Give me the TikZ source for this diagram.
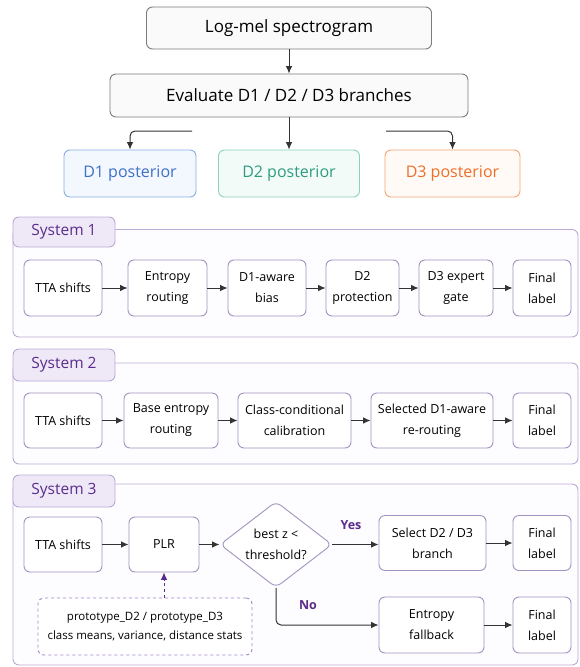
\documentclass[tikz,border=0pt]{standalone}
\usepackage{fontspec}
\setmainfont{Open Sans}
\usetikzlibrary{arrows.meta,shapes.geometric}
\definecolor{topline}{HTML}{7C7C80}
\definecolor{topfill}{HTML}{FAFAFB}
\definecolor{onecol}{HTML}{3E70C8}
\definecolor{onefill}{HTML}{F3F7FE}
\definecolor{oneline}{HTML}{8AAEE6}
\definecolor{twocol}{HTML}{2E9C7E}
\definecolor{twofill}{HTML}{F3FBF9}
\definecolor{twoline}{HTML}{8AD3C2}
\definecolor{threecol}{HTML}{EE6E28}
\definecolor{threefill}{HTML}{FFFAF6}
\definecolor{threeline}{HTML}{F3A774}
\definecolor{stageline}{HTML}{A393C0}
\definecolor{panelline}{HTML}{BBAAD6}
\definecolor{panelfill}{HTML}{FDFCFE}
\definecolor{tabfill}{HTML}{EFE8F7}
\definecolor{sysviolet}{HTML}{5A2D8C}
\definecolor{arrowgray}{HTML}{333333}
\definecolor{protoline}{HTML}{A487CC}
\begin{document}
\begin{tikzpicture}[x=1pt,y=-1pt,
    top/.style={draw=topline,fill=topfill,rounded corners=6pt,line width=0.9pt,
      font=\fontsize{17}{20}\selectfont},
    post/.style={rounded corners=6pt,line width=0.9pt,minimum height=47pt,
      font=\fontsize{16}{19}\selectfont},
    stage/.style={draw=stageline,fill=white,rounded corners=6pt,line width=0.9pt,
      align=center,inner sep=2pt,font=\fontsize{12.5}{21}\selectfont},
    panel/.style={draw=panelline,fill=panelfill,rounded corners=6pt,line width=0.9pt},
    tab/.style={draw=panelline,fill=tabfill,rounded corners=6pt,line width=0.9pt,
      text=sysviolet,minimum width=102pt,font=\fontsize{15.5}{18}\selectfont},
    arr/.style={draw=arrowgray,line width=1pt,-{Latex[length=7.5pt,width=6.5pt]}},
    dasharr/.style={draw=sysviolet,line width=0.9pt,dashed,-{Latex[length=7.5pt,width=6.5pt]}},
    verdict/.style={text=sysviolet,font=\fontsize{12.5}{14}\selectfont\bfseries}]
  \useasboundingbox[fill=white] (0,0) rectangle (579,667);
  \node[top,minimum width=285pt,minimum height=42pt] (logmel) at (289,28) {Log-mel spectrogram};
  \node[top,minimum width=358pt,minimum height=43pt] (evalb) at (289,95.5) {Evaluate D1 / D2 / D3 branches};
  \node[post,draw=oneline,fill=onefill,text=onecol,minimum width=132pt] (d1) at (130,173.5) {D1 posterior};
  \node[post,draw=twoline,fill=twofill,text=twocol,minimum width=141pt] (d2) at (289,173.5) {D2 posterior};
  \node[post,draw=threeline,fill=threefill,text=threecol,minimum width=135pt] (d3) at (452.5,173.5) {D3 posterior};
  \coordinate (b1) at (192,131);
  \coordinate (b3) at (386,131);
  \begin{scope}[arr]
    \draw (logmel) -- (evalb);
    \draw (evalb) -- (d2);
    \draw[rounded corners=5pt] (b1) -| (d1.north);
    \draw[rounded corners=5pt] (b3) -| (d3.north);
  \end{scope}

  \draw[panel] (13,229.5) rectangle (578,337);
  \node[tab,minimum height=30pt] (tab1) at (64,232) {System 1};
  \node[stage,minimum width=78pt,minimum height=56pt] (s1a) at (63,288) {TTA shifts};
  \node[stage,minimum width=79pt,minimum height=56pt] (s1b) at (167.5,288) {Entropy\\routing};
  \node[stage,minimum width=78pt,minimum height=56pt] (s1c) at (267,288) {D1-aware\\bias};
  \node[stage,minimum width=73pt,minimum height=56pt] (s1d) at (362.5,288) {D2\\protection};
  \node[stage,minimum width=74pt,minimum height=56pt] (s1e) at (456,288) {D3 expert\\gate};
  \node[stage,minimum width=58pt,minimum height=56pt] (s1f) at (542,288) {Final\\label};
  \begin{scope}[arr]
    \draw (s1a) -- (s1b);
    \draw (s1b) -- (s1c);
    \draw (s1c) -- (s1d);
    \draw (s1d) -- (s1e);
    \draw (s1e) -- (s1f);
  \end{scope}

  \draw[panel] (13,363) rectangle (578,464);
  \node[tab,minimum height=32pt] (tab2) at (64,365) {System 2};
  \node[stage,minimum width=78pt,minimum height=55pt] (s2a) at (63,420.5) {TTA shifts};
  \node[stage,minimum width=94pt,minimum height=55pt] (s2b) at (171,420.5) {Base entropy\\routing};
  \node[stage,minimum width=113pt,minimum height=55pt] (s2c) at (294.5,420.5) {Class-conditional\\calibration};
  \node[stage,minimum width=122pt,minimum height=55pt] (s2d) at (432,420.5) {Selected D1-aware\\re-routing};
  \node[stage,minimum width=58pt,minimum height=55pt] (s2e) at (542,420.5) {Final\\label};
  \begin{scope}[arr]
    \draw (s2a) -- (s2b);
    \draw (s2b) -- (s2c);
    \draw (s2c) -- (s2d);
    \draw (s2d) -- (s2e);
  \end{scope}

  \draw[panel] (13,484) rectangle (578,665);
  \node[tab,minimum height=32pt] (tab3) at (64,491) {System 3};
  \node[stage,minimum width=78pt,minimum height=55pt] (s3a) at (63,544.5) {TTA shifts};
  \node[stage,minimum width=70pt,minimum height=55pt] (s3b) at (164,544.5) {PLR};
  \node[stage,shape=diamond,aspect=1.3,minimum width=112pt,minimum height=86pt,inner sep=0pt] (s3c) at (276,544.5) {best z <\\threshold?};
  \node[stage,minimum width=107pt,minimum height=55pt] (s3d) at (432.5,543) {Select D2 / D3\\branch};
  \node[stage,minimum width=58pt,minimum height=55pt] (s3e) at (542,543) {Final\\label};
  \node[stage,minimum width=105pt,minimum height=56pt] (s3f) at (431.5,625) {Entropy\\fallback};
  \node[stage,minimum width=58pt,minimum height=56pt] (s3g) at (542,625) {Final\\label};
  \node[stage,draw=protoline,dashed,minimum width=214pt,minimum height=57pt,
    font=\fontsize{11.5}{19}\selectfont] (proto) at (145,626.5)
    {prototype\_D2 / prototype\_D3\\class means, variance, distance stats};
  \begin{scope}[arr]
    \draw (s3a) -- (s3b);
    \draw (s3b) -- (s3c);
    \draw (s3c.east) -- (s3c.east -| s3d.west);
    \draw (s3d) -- (s3e);
    \draw[rounded corners=5pt] (s3c.south) |- (s3f.west);
    \draw (s3f) -- (s3g);
  \end{scope}
  \draw[dasharr] (s3b.south |- proto.north) -- (s3b.south);
  \node[verdict] (yes) at (351,525) {Yes};
  \node[verdict] (no) at (308,605) {No};
\end{tikzpicture}
\end{document}
